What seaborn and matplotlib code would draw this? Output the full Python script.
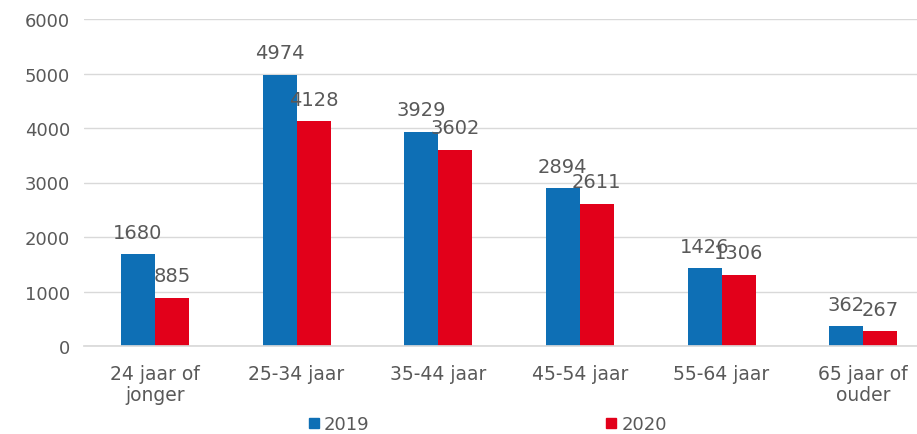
import matplotlib.pyplot as plt
from matplotlib.patches import Patch
import pandas as pd
import seaborn as sns

# data
categories = ['24 jaar of\njonger', '25-34 jaar', '35-44 jaar',
              '45-54 jaar', '55-64 jaar', '65 jaar of\nouder']
years = ['2019', '2020']
values_2019 = [1680, 4974, 3929, 2894, 1426, 362]
values_2020 = [885, 4128, 3602, 2611, 1306, 267]

df = pd.DataFrame({
    'Leeftijd': categories * 2,
    'Jaar': [years[0]] * len(categories) + [years[1]] * len(categories),
    'Aantal': values_2019 + values_2020,
})

palette = {'2019': '#0E6FB5', '2020': '#E2001A'}
text_grey = '#595959'
grid_grey = '#D9D9D9'

sns.set_theme(style="white")
plt.rcParams['font.family'] = ['DejaVu Sans']

fig = plt.figure(figsize=(9.17, 4.35), dpi=100)
ax = fig.add_axes([84 / 917, 1 - 347 / 435, 833 / 917, 327 / 435])

sns.barplot(data=df, x='Leeftijd', y='Aantal', hue='Jaar', hue_order=years,
            palette=palette, width=0.48, saturation=1, legend=False,
            linewidth=0, ax=ax)

for c in ax.containers:
    ax.bar_label(c, fmt='%d', padding=9, fontsize=14, color=text_grey)

ax.set_ylim(0, 6000)
ax.set_xlim(-0.5, 5.38)
ax.set_yticks(range(0, 6001, 1000))
ax.yaxis.grid(True, color=grid_grey, linewidth=1)
ax.set_axisbelow(True)
for side in ['left', 'right', 'top']:
    ax.spines[side].set_visible(False)
ax.spines['bottom'].set_color(grid_grey)
ax.set_xlabel('')
ax.set_ylabel('')
ax.tick_params(axis='y', length=0, labelsize=13, colors=text_grey, pad=10)
ax.tick_params(axis='x', length=0, labelsize=13.5, colors=text_grey, pad=13)
for lbl in ax.get_xticklabels():
    lbl.set_linespacing(1.1)

handles = [Patch(color=palette[y], label=y) for y in years]
leg = fig.legend(handles=handles, loc='center', bbox_to_anchor=(0.532, 0.022),
                 ncol=2, frameon=False, fontsize=13, handlelength=0.55,
                 handleheight=0.55, handletextpad=0.3, columnspacing=13.1)
for t in leg.get_texts():
    t.set_color(text_grey)

plt.savefig('out.png', dpi=100)
